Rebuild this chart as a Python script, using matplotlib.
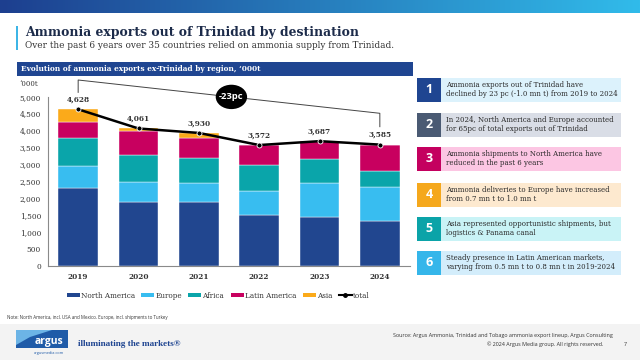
import matplotlib
matplotlib.use("Agg")
import matplotlib.pyplot as plt
import numpy as np
from matplotlib.patches import Rectangle, Polygon, Ellipse
from matplotlib.lines import Line2D
from matplotlib.patches import Patch

# ---------------- data ----------------
years = ["2019", "2020", "2021", "2022", "2023", "2024"]
north_america = [2300, 1890, 1890, 1510, 1435, 1338]
europe = [655, 598, 570, 710, 1020, 1000]
africa = [820, 802, 720, 775, 695, 472]
latin_america = [487, 697, 609, 577, 537, 775]
asia = [366, 74, 141, 0, 0, 0]
totals = [4628, 4061, 3930, 3572, 3687, 3585]
series_names = ["North America", "Europe", "Africa", "Latin America", "Asia"]
series_colors = ["#21468f", "#38bdf0", "#0aa5aa", "#c8005f", "#fbaa1a"]
change_label = "-23pc"

title = "Ammonia exports out of Trinidad by destination"
subtitle = "Over the past 6 years over 35 countries relied on ammonia supply from Trinidad."
chart_header = "Evolution of ammonia exports ex-Trinidad by region, \u2018000t"
unit_label = "\u2018000t"
note = "Note: North America, incl. USA and Mexico. Europe, incl. shipments to Turkey"
source = "Source: Argus Ammonia, Trinidad and Tobago ammonia export lineup, Argus Consulting"
copyright_txt = "\u00a9 2024 Argus Media group. All rights reserved."
page_no = "7"

panel_numbers = ["1", "2", "3", "4", "5", "6"]
panel_texts = [
    "Ammonia exports out of Trinidad have\ndeclined by 23 pc (-1.0 mn t) from 2019 to 2024",
    "In 2024, North America and Europe accounted\nfor 65pc of total exports out of Trinidad",
    "Ammonia shipments to North America have\nreduced in the past 6 years",
    "Ammonia deliveries to Europe have increased\nfrom 0.7 mn t to 1.0 mn t",
    "Asia represented opportunistic shipments, but\nlogistics & Panama canal",
    "Steady presence in Latin American markets,\nvarying from 0.5 mn t to 0.8 mn t in 2019-2024",
]
panel_dark = ["#1f4591", "#4a5a73", "#c4005f", "#f5a81c", "#0ba3a8", "#35b6ea"]
panel_light = ["#dcf2fc", "#d9dde6", "#fcc6e3", "#fde9cf", "#c9f3f6", "#d3edfb"]

SERIF = "DejaVu Serif"
SANS = "Open Sans"

W, H = 640, 360
fig = plt.figure(figsize=(6.4, 3.6), dpi=100)
fig.patch.set_facecolor("white")


def fx(x):
    return x / W


def fy(y):
    return 1 - y / H


def rect(x0, y0, x1, y1, color, **kw):
    fig.patches.append(Rectangle((fx(x0), fy(y1)), fx(x1) - fx(x0), fy(y0) - fy(y1),
                                 transform=fig.transFigure, facecolor=color,
                                 edgecolor="none", **kw))


# top gradient bar
gax = fig.add_axes([0, fy(13), 1, 13 / H])
grad = np.linspace(0, 1, 256)
c0 = np.array([0x1d, 0x3f, 0x8f]) / 255
c1 = np.array([0x31, 0xbb, 0xea]) / 255
img = (c0[None, :] * (1 - grad[:, None]) + c1[None, :] * grad[:, None])[None, :, :]
gax.imshow(img, aspect="auto", extent=[0, 1, 0, 1])
gax.axis("off")

# title block
rect(15.5, 26, 17.5, 50, "#3db5e6")
fig.text(fx(25), fy(32.5), title, fontsize=8.9, fontweight="bold", family=SERIF,
         color="#1c2b4a", va="center", ha="left")
fig.text(fx(25), fy(46), subtitle, fontsize=6.4, family=SERIF, color="#333333",
         va="center", ha="left")

# chart header band
rect(17, 62, 413, 76, "#1f4591")
fig.text(fx(21), fy(69), chart_header, fontsize=5.3, fontweight="bold", family=SERIF,
         color="white", va="center", ha="left")
fig.text(fx(19), fy(84), unit_label, fontsize=5, family=SERIF, color="#333333",
         va="center", ha="left")

# ---------------- chart ----------------
ax = fig.add_axes([fx(48), fy(266), fx(410) - fx(48), (266 - 96.7) / H])
x = np.arange(len(years))
bottom = np.zeros(len(years))
for vals, col in zip([north_america, europe, africa, latin_america, asia], series_colors):
    ax.bar(x, vals, bottom=bottom, width=0.66, color=col, edgecolor="white",
           linewidth=0.3, zorder=2)
    bottom += np.array(vals)

ax.plot(x, totals, color="black", linewidth=1.8, zorder=4, clip_on=False)
ax.plot(x, totals, linestyle="none", marker="o", markersize=3.6, markerfacecolor="black",
        markeredgecolor="white", markeredgewidth=0.6, zorder=5, clip_on=False)
for xi, t in zip(x, totals):
    ax.annotate(f"{t:,}", (xi, t), xytext=(0, 7), textcoords="offset points",
                ha="center", va="center", fontsize=5.3, fontweight="bold",
                family=SERIF, color="#333333", zorder=6)

ax.set_xlim(-0.5, len(years) - 0.5)
ax.set_ylim(0, 5000)
ax.set_yticks(np.arange(0, 5001, 500))
ax.set_yticklabels([f"{v:,}" for v in range(0, 5001, 500)], family=SERIF,
                   fontsize=5.3, color="#333333")
ax.set_xticks(x)
ax.set_xticklabels(years, family=SERIF, fontsize=5.3, fontweight="bold", color="#333333")
ax.tick_params(axis="both", length=0)
ax.tick_params(axis="y", pad=5)
ax.tick_params(axis="x", pad=5)
for s in ["top", "right"]:
    ax.spines[s].set_visible(False)
for s in ["left", "bottom"]:
    ax.spines[s].set_color("#8a8a8a")
    ax.spines[s].set_linewidth(0.8)

# bracket annotation
ytop = totals[0] + 865
yright = totals[-1] + 925
ax.plot([x[0], x[0], x[-1], x[-1]],
        [totals[0] + 500, ytop, yright, totals[-1] + 530],
        color="#444444", linewidth=0.7, clip_on=False, zorder=3)
mx = 2.54
my = ytop + (yright - ytop) * (mx - x[0]) / (x[-1] - x[0])
ax.add_patch(Ellipse((mx, my), 0.52, 720, facecolor="black", edgecolor="none",
                     clip_on=False, zorder=6))
ax.text(mx, my, change_label, ha="center", va="center", fontsize=6.8, fontweight="bold",
        family=SANS, color="white", zorder=7)

# legend
handles = [Patch(facecolor=c, edgecolor="none") for c in series_colors]
handles.append(Line2D([0], [0], color="black", linewidth=1.5, marker="o", markersize=2.5))
labels = series_names + ["total"]
leg = fig.legend(handles, labels, loc="center", bbox_to_anchor=(fx(218), fy(295.5)),
                 ncol=6, frameon=False, prop={"family": SERIF, "size": 5.2},
                 handlelength=1.8, handleheight=0.55, handletextpad=0.15,
                 columnspacing=0.9, borderpad=0)
for t in leg.get_texts():
    t.set_color("#333333")

# note
fig.text(fx(7), fy(318), note, fontsize=3.25, family=SANS, color="#333333",
         va="center", ha="left")

# ---------------- right panel ----------------
tops = [78, 113, 147, 183, 217, 251]
for num, txt, dk, lt, y0 in zip(panel_numbers, panel_texts, panel_dark, panel_light, tops):
    y1 = y0 + 23.5
    rect(441, y0, 621, y1, lt)
    rect(417, y0, 441, y1, dk)
    fig.text(fx(429), fy((y0 + y1) / 2), num, fontsize=9, fontweight="bold",
             family=SANS, color="white", ha="center", va="center")
    fig.text(fx(446), fy((y0 + y1) / 2), txt, fontsize=5.0, family=SERIF,
             color="#2a2a2a", ha="left", va="center", linespacing=1.15)

# ---------------- footer ----------------
rect(0, 324, 640, 360, "#f3f3f3")
# logo
rect(16, 330, 68, 348, "#1f5ba8")
fig.patches.append(Polygon([(fx(16), fy(330)), (fx(52), fy(330)), (fx(30), fy(337)),
                            (fx(16), fy(345))], closed=True, transform=fig.transFigure,
                           facecolor="#6cb4e6", edgecolor="none"))
fig.text(fx(63), fy(341.5), "argus", fontsize=7.5, fontweight="bold", family=SANS,
         color="white", ha="right", va="center")
fig.text(fx(49), fy(353), "argusmedia.com", fontsize=2.8, family=SANS,
         color="#1f5ba8", ha="center", va="center")
fig.text(fx(78), fy(344), "illuminating the markets\u00ae", fontsize=6.6, fontweight="bold",
         family="Liberation Serif", color="#1f4591", ha="left", va="center")
fig.text(fx(613), fy(335), source, fontsize=3.9, family=SANS, color="#333333",
         ha="right", va="center")
fig.text(fx(603), fy(344), copyright_txt, fontsize=3.9, family=SANS, color="#333333",
         ha="right", va="center")
fig.text(fx(625), fy(344), page_no, fontsize=3.9, family=SANS, color="#333333",
         ha="center", va="center")

fig.savefig("out.png", dpi=100)
